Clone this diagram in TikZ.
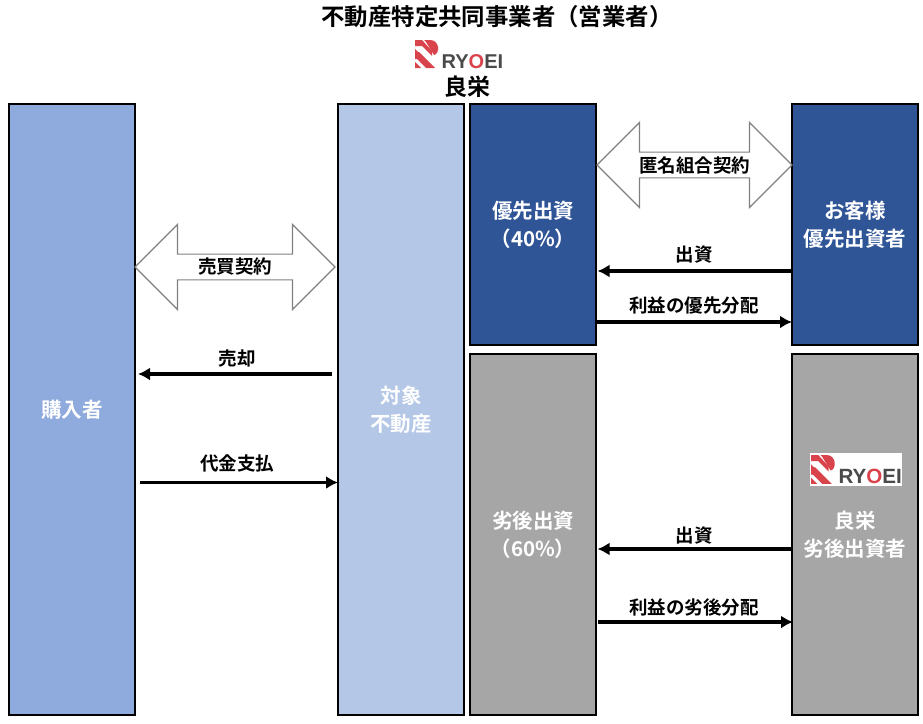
\documentclass[tikz,border=0pt]{standalone}
\usepackage{fontspec}
\setmainfont{Noto Sans CJK JP}[BoldFont={* Bold}]
\newfontfamily\latinfont{Liberation Sans}[BoldFont={Liberation Sans Bold}]
\usepackage{xcolor}
\usetikzlibrary{shapes.arrows, arrows.meta, positioning}

\definecolor{buyerblue}{HTML}{8FAADC}
\definecolor{propblue}{HTML}{B4C7E7}
\definecolor{navyblue}{HTML}{2F5597}
\definecolor{subgray}{HTML}{A6A6A6}
\definecolor{logored}{HTML}{D9434B}
\definecolor{logogray}{HTML}{4A4A4A}

\tikzset{
    pillar/.style={draw=black, line width=2pt, text=white, font=\bfseries\fontsize{20.5}{28}\selectfont, align=center, anchor=north west, inner sep=0pt, minimum width=126pt},
    deal/.style={shape=double arrow, draw=gray, fill=white, line width=1.2pt, font=\bfseries\fontsize{18.5}{22}\selectfont, inner sep=0pt, double arrow head extend=21.5pt, minimum width=85pt},
    flow/.style={-{Latex[length=12pt, width=13pt]}, line width=3.4pt},
    tag/.style={font=\bfseries\fontsize{18.5}{22}\selectfont, inner sep=0pt},
    pics/ryoei/.style={code={
        \fill[logored] (0,0) -- (7,0) -- (17,11) -- (17,16) -- (7,6) -- (0,6) -- cycle;
        \fill[logored] (9,0) -- (15,0) .. controls (25,0) and (25,14) .. (19,15) -- (11,2) -- cycle;
        \fill[logored] (0,9) -- (10,19) -- (0,19) -- cycle;
        \fill[logored] (0,22) -- (0,28) -- (6,28) -- cycle;
        \fill[logored] (4,12) -- (20,28) -- (11,28) -- (0,17) -- (0,12) -- cycle;
        \node[font=\latinfont\bfseries\fontsize{20}{20}\selectfont, text=logogray, inner sep=0pt, anchor=base west, transform shape] (-word) at (26.5,28) {RY\textcolor{logored}{O}EI};
    }}
}

\begin{document}
\begin{tikzpicture}[x=1pt, y=-1pt]
    \useasboundingbox (0,0) rectangle (923,723);

    \node[pillar, fill=buyerblue, minimum height=611pt] (buyer)    at (8,103)   {購入者};
    \node[pillar, fill=propblue,  minimum height=611pt] (property) at (337,103) {対象\\不動産};
    \node[pillar, fill=navyblue,  minimum height=241pt] (senior)   at (469,103) {優先出資\\（40\%）};
    \node[pillar, fill=subgray,   minimum height=361pt] (junior)   at (469,353) {劣後出資\\（60\%）};
    \node[pillar, fill=navyblue,  minimum height=241pt] (customer) at (791,103) {お客様\\優先出資者};
    \node[pillar, fill=subgray,   minimum height=361pt] (ryoeiinv) at (791,353) {良栄\\劣後出資者};

    \node[font=\bfseries\fontsize{23.4}{26}\selectfont, inner sep=0pt] (title) at (497,17) {不動産特定共同事業者（営業者）};
    \pic (toplogo) at (415,40) {ryoei};
    \node[font=\bfseries\fontsize{23}{26}\selectfont, inner sep=0pt] (ryoeiname) at (467,87) {良栄};

    \node[fill=white, minimum width=92pt, minimum height=33pt, inner sep=0pt] (logobox) at (856,469.5) {};
    \pic[scale=1.03, transform shape] (sublogo) at (811,455) {ryoei};

    \node[deal, minimum height=200pt] (sale)   at (235,267) {売買契約};
    \node[deal, minimum height=195pt] (silent) at (694.5,165) {匿名組合契約};

    \node[tag] (sold)    at (237,358) {売却};
    \node[tag] (paid)    at (237,463) {代金支払};
    \node[tag] (inone)   at (694,254) {出資};
    \node[tag] (prefout) at (694,306) {利益の優先分配};
    \node[tag] (intwo)   at (694,535) {出資};
    \node[tag] (subout)  at (694,607) {利益の劣後分配};

    \draw[flow] ([shift={(-5,271)}]property.north west) -- ([shift={(2,271)}]buyer.north east);
    \draw[flow] ([shift={(4,379.5)}]buyer.north east)   -- ([shift={(1,379.5)}]property.north west);
    \draw[flow] ([shift={(1,168)}]customer.north west)  -- ([shift={(0.5,168)}]senior.north east);
    \draw[flow] ([shift={(0,219)}]senior.north east)    -- ([shift={(1,219)}]customer.north west);
    \draw[flow] ([shift={(1,196)}]ryoeiinv.north west)  -- ([shift={(0.5,196)}]junior.north east);
    \draw[flow] ([shift={(1,269)}]junior.north east)    -- ([shift={(2,269)}]ryoeiinv.north west);
\end{tikzpicture}
\end{document}
